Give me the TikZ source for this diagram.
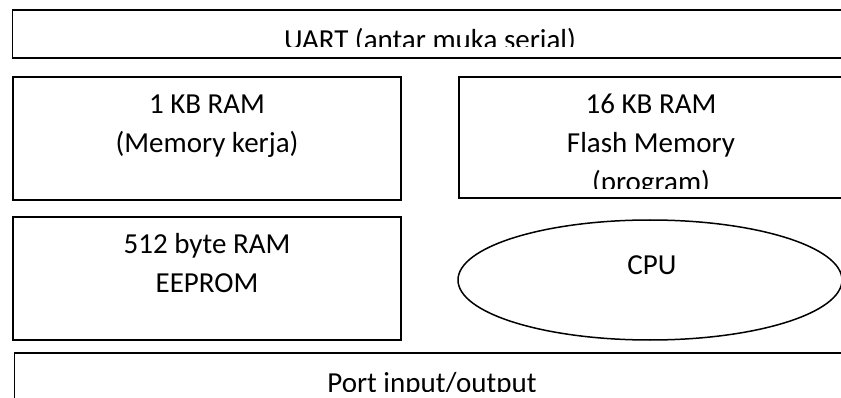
\documentclass[tikz,border=0pt]{standalone}
\usepackage{fontspec}
\setmainfont{Carlito}
\usetikzlibrary{shapes.geometric}
\begin{document}
\begin{tikzpicture}[x=1pt,y=-1pt,
  box/.style={draw, line width=1.5pt, inner sep=0pt, rectangle},
  oval/.style={draw, line width=1.5pt, inner sep=0pt, ellipse},
  lbl/.style={font=\fontsize{29}{39}\selectfont, anchor=base, inner sep=0pt}]
\useasboundingbox (0,0) rectangle (841,398);
\clip (0,0) rectangle (841,398);
% boxes
\node[box, minimum width=835pt, minimum height=48pt] (uart) at (430,34) {};
\node[box, minimum width=388pt, minimum height=123pt] (ram1) at (207,138.5) {};
\node[box, minimum width=388pt, minimum height=121pt] (flash) at (653,137.5) {};
\node[box, minimum width=388pt, minimum height=123pt] (eeprom) at (207,278.5) {};
\node[oval, minimum width=384pt, minimum height=120pt] (cpu) at (650,280) {};
\node[box, minimum width=835pt, minimum height=76pt] (port) at (432,391) {};
% texts
\begin{scope}
  \clip (12,10) rectangle (841,47);
  \node[lbl] (uartt) at (430,50) {UART (antar muka serial)};
\end{scope}
\node[lbl] (ram1a) at (207,114) {1 KB RAM};
\node[lbl] (ram1b) at (207,153) {(Memory kerja)};
\begin{scope}
  \clip (459,77) rectangle (841,188.5);
  \node[lbl] (flasha) at (651,114) {16 KB RAM};
  \node[lbl] (flashb) at (651,153) {Flash Memory};
  \node[lbl] (flashc) at (651,192) {(program)};
\end{scope}
\node[lbl] (eeproma) at (207,254) {512 byte RAM};
\node[lbl] (eepromb) at (207,293) {EEPROM};
\node[lbl] (cput) at (652,275) {CPU};
\begin{scope}
  \clip (14,353) rectangle (841,391);
  \node[lbl] (portt) at (432,392.5) {Port input/output};
\end{scope}
\end{tikzpicture}
\end{document}
